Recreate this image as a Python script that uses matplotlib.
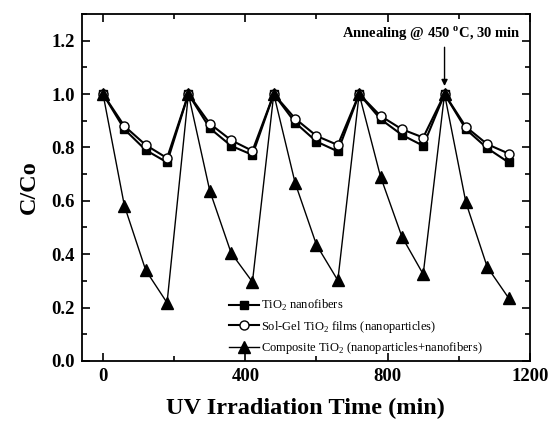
import matplotlib
matplotlib.use("Agg")
import matplotlib.pyplot as plt
from matplotlib.ticker import MultipleLocator

plt.rcParams['font.family'] = ['Liberation Serif', 'DejaVu Serif']
plt.rcParams['mathtext.fontset'] = 'custom'
plt.rcParams['mathtext.rm'] = 'Liberation Serif'
plt.rcParams['mathtext.bf'] = 'Liberation Serif:bold'

# UV irradiation time (min), 5 cycles of 240 min
time = [0, 60, 120, 180, 240, 300, 360, 420, 480, 540, 600, 660,
        720, 780, 840, 900, 960, 1020, 1080, 1140]

nanofibers = [1.0, 0.868, 0.79, 0.744,
              1.0, 0.872, 0.806, 0.772,
              1.0, 0.893, 0.822, 0.785,
              1.0, 0.906, 0.847, 0.806,
              1.0, 0.868, 0.797, 0.744]

solgel = [1.0, 0.88, 0.809, 0.76,
          1.0, 0.889, 0.827, 0.787,
          1.0, 0.908, 0.843, 0.809,
          1.0, 0.918, 0.868, 0.837,
          1.0, 0.877, 0.812, 0.777]

composite = [1.0, 0.582, 0.34, 0.218,
             1.0, 0.638, 0.405, 0.296,
             1.0, 0.667, 0.435, 0.302,
             1.0, 0.691, 0.466, 0.325,
             1.0, 0.594, 0.352, 0.236]

fig = plt.figure(figsize=(5.5, 4.23), dpi=100)
ax = fig.add_axes([0.1485, 0.1466, 0.815, 0.8205])

ax.plot(time, nanofibers, '-s', color='black', lw=1.5, ms=6,
        mfc='black', label='TiO$_2$ nanofibers')
ax.plot(time, solgel, '-o', color='black', lw=1.5, ms=6.5,
        mfc='white', mec='black', mew=1.0,
        label='Sol-Gel TiO$_2$ films (nanoparticles)')
ax.plot(time, composite, '-^', color='black', lw=1.0, ms=8.5,
        mfc='black', label='Composite TiO$_2$ (nanoparticles+nanofibers)')

ax.set_xlim(-60, 1200)
ax.set_ylim(0, 1.3)
ax.xaxis.set_major_locator(MultipleLocator(400))
ax.xaxis.set_minor_locator(MultipleLocator(200))
ax.yaxis.set_major_locator(MultipleLocator(0.2))
ax.yaxis.set_minor_locator(MultipleLocator(0.1))
ax.yaxis.set_major_formatter(matplotlib.ticker.FormatStrFormatter('%.1f'))

ax.tick_params(which='both', direction='in', top=True, right=True, width=1.2)
ax.tick_params(which='major', length=6, labelsize=13.5, pad=5)
ax.tick_params(which='minor', length=3.5)
for lab in ax.get_xticklabels() + ax.get_yticklabels():
    lab.set_fontweight('bold')
for s in ax.spines.values():
    s.set_linewidth(1.3)

ax.set_xlabel('UV Irradiation Time (min)', fontsize=17.5, fontweight='bold', labelpad=9)
ax.set_ylabel('C/Co', fontsize=17.5, fontweight='bold', labelpad=8)

ax.text(922, 1.19, 'Annealing @ 450 $^{\\mathbf{o}}$C, 30 min', ha='center',
        va='bottom', fontsize=10.5, fontweight='bold')
ax.annotate('', xy=(960, 1.03), xytext=(960, 1.175),
            arrowprops=dict(arrowstyle='-|>', color='black', lw=1.0,
                            mutation_scale=9, shrinkA=0, shrinkB=0))

ax.legend(loc='lower left', bbox_to_anchor=(0.31, -0.012), frameon=False,
          fontsize=9, handlelength=2.4, handletextpad=0.15,
          labelspacing=0.45, borderaxespad=0.3)

fig.savefig('out.png', dpi=100)
